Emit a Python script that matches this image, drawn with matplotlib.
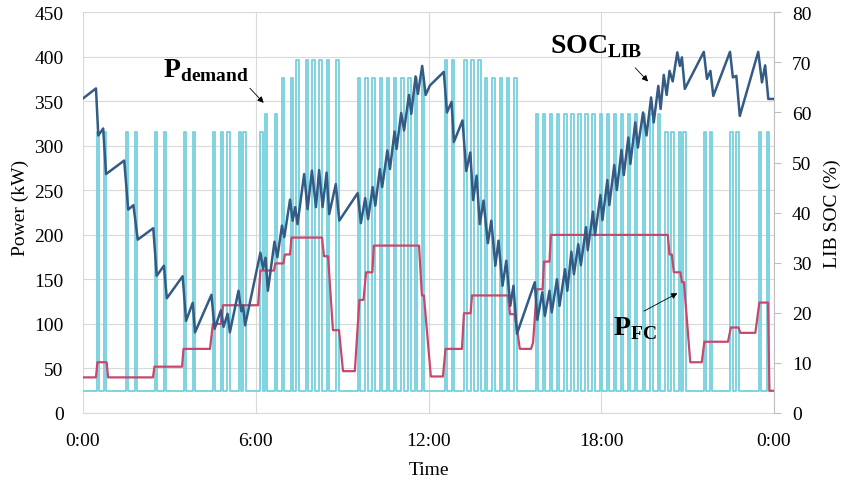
import matplotlib
matplotlib.use("Agg")
import matplotlib.pyplot as plt

plt.rcParams['font.family'] = ['Liberation Serif', 'DejaVu Serif']
plt.rcParams['mathtext.fontset'] = 'custom'
plt.rcParams['mathtext.rm'] = 'Liberation Serif'
plt.rcParams['mathtext.bf'] = 'Liberation Serif:bold'

# ---- data (hours, kW / %) ----
base_kw = 25
pulse_len = 0.09   # duration of one demand pulse (h)
pulse_mid = [0.52, 0.76, 1.53, 1.84, 2.54, 2.85, 3.54, 3.85, 4.55, 4.83, 5.05, 5.45, 5.61,
             6.20, 6.35, 6.70, 6.94, 7.26,
             7.45, 7.78, 8.00, 8.25, 8.51, 8.84,
             9.58, 9.84, 10.09, 10.35, 10.59, 10.84, 11.10, 11.34, 11.57, 11.81,
             12.60, 12.85, 13.28, 13.53, 13.76,
             14.00, 14.25, 14.52, 14.76, 15.02,
             15.76, 16.01, 16.26, 16.50, 16.75, 16.99, 17.24, 17.49, 17.73, 17.99,
             18.23, 18.48, 18.72, 18.96, 19.21, 19.48, 19.75, 20.01,
             20.27, 20.47, 20.73, 20.89, 21.60, 21.81, 22.52, 22.74, 23.51, 23.79]
pulse_kw = [316, 316, 316, 316, 316, 316, 316, 316, 316, 316, 316, 316, 316,
            316, 336, 336, 376, 376,
            396, 396, 396, 396, 396, 396,
            376, 376, 376, 376, 376, 376, 376, 376, 376, 376,
            396, 396, 396, 396, 396,
            376, 376, 376, 376, 376,
            336, 336, 336, 336, 336, 336, 336, 336, 336, 336,
            336, 336, 336, 336, 336, 336, 336, 336,
            316, 316, 316, 316, 316, 316, 316, 316, 316, 316]

fc_t = [0.00, 0.45, 0.50, 0.82, 0.87, 2.43, 2.48, 3.44, 3.49, 4.41, 4.51, 4.79, 4.86,
        6.08, 6.16, 6.63, 6.68, 6.96, 7.01, 7.19, 7.24, 8.30, 8.37, 8.51, 8.68, 8.89,
        9.03, 9.44, 9.60, 9.74, 9.83, 10.05, 10.10, 11.67, 11.77, 11.84, 12.08, 12.50,
        12.59, 13.16, 13.23, 13.46, 13.51, 14.76, 14.83, 15.00, 15.17, 15.56, 15.63,
        15.76, 15.96, 16.01, 16.20, 16.25, 20.31, 20.37, 20.45, 20.52, 20.75, 20.80,
        20.87, 21.09, 21.49, 21.58, 22.40, 22.50, 22.76, 22.83, 23.35, 23.49, 23.79,
        23.84, 24.00]
fc_kw = [40, 40, 57, 57, 40, 40, 52, 52, 72, 72, 100, 100, 121,
         121, 160, 160, 168, 168, 178, 178, 197, 197, 176, 176, 93, 93,
         47, 47, 127, 127, 158, 158, 188, 188, 132, 132, 41, 41,
         72, 72, 112, 112, 132, 132, 111, 111, 72, 72, 79,
         139, 139, 170, 170, 200, 200, 178, 178, 158, 158, 147,
         147, 57, 57, 80, 80, 96, 96, 90, 90, 124, 124,
         25, 25]

soc_t = [0.00, 0.45, 0.53, 0.70, 0.80, 1.43, 1.57, 1.75, 1.90, 2.44, 2.56, 2.81, 2.91,
         3.46, 3.58, 3.81, 3.89, 4.46, 4.57, 4.79, 4.88, 5.02, 5.10, 5.40, 5.50, 5.56,
         5.63, 6.16, 6.25, 6.34, 6.42, 6.65, 6.75, 6.91, 6.99, 7.19, 7.28, 7.37, 7.45,
         7.68, 7.80, 7.95, 8.09, 8.20, 8.32, 8.46, 8.55, 8.78, 8.90, 9.54, 9.65, 9.80,
         9.90, 10.06, 10.15, 10.31, 10.39, 10.57, 10.66, 10.82, 10.89, 11.05, 11.15,
         11.32, 11.40, 11.55, 11.63, 11.78, 11.90, 12.05, 12.53, 12.64, 12.80, 12.88,
         13.18, 13.31, 13.45, 13.55, 13.67, 13.78, 13.91, 14.06, 14.18, 14.32, 14.43,
         14.57, 14.70, 14.84, 14.95, 15.07, 15.69, 15.78, 15.95, 16.04, 16.20, 16.28,
         16.46, 16.55, 16.74, 16.82, 16.96, 17.05, 17.20, 17.29, 17.47, 17.53, 17.71,
         17.78, 17.97, 18.04, 18.21, 18.28, 18.45, 18.54, 18.70, 18.78, 18.94, 19.01,
         19.18, 19.27, 19.45, 19.57, 19.73, 19.82, 19.98, 20.06, 20.17, 20.27, 20.37,
         20.48, 20.64, 20.73, 20.80, 20.90, 21.56, 21.67, 21.79, 21.89, 22.47, 22.57,
         22.69, 22.81, 23.45, 23.58, 23.69, 23.80, 24.00]
soc_pct = [62.8, 64.8, 55.4, 56.8, 47.7, 50.4, 40.6, 41.5, 34.6, 36.9, 27.4, 29.4, 22.9,
           27.3, 18.4, 22.0, 16.1, 23.6, 16.8, 20.5, 17.2, 19.8, 16.1, 24.4, 20.3, 21.5,
           17.5, 32.0, 28.8, 31.0, 24.4, 34.2, 31.1, 37.4, 35.1, 42.6, 38.4, 41.1, 37.7,
           47.7, 40.7, 48.4, 41.1, 48.5, 41.1, 48.0, 39.7, 45.7, 38.4, 43.9, 37.9, 42.9,
           38.7, 45.1, 41.4, 48.7, 45.1, 52.4, 48.7, 56.2, 52.7, 59.9, 56.4,
           63.5, 59.7, 67.2, 63.7, 69.3, 63.5, 65.4, 68.1, 60.0, 62.1, 54.1,
           58.4, 48.3, 52.0, 42.5, 47.4, 37.7, 42.4, 33.9, 38.4, 29.4, 34.4,
           25.4, 30.4, 21.4, 25.4, 15.8, 26.1, 18.6, 24.1, 19.4, 24.4, 20.1,
           26.7, 21.4, 28.7, 24.4, 32.2, 27.7, 33.7, 29.5, 37.1, 32.5, 40.2,
           35.5, 43.5, 38.5, 46.5, 41.5, 49.5, 44.5, 52.5, 47.5, 55.0, 49.7,
           58.0, 53.0, 60.0, 55.4, 63.0, 58.0, 65.3, 60.7, 67.5, 63.5, 68.3,
           66.2, 72.0, 69.3, 71.0, 64.7, 72.1, 66.7, 68.3, 63.3, 72.1, 67.0,
           67.3, 59.3, 72.1, 66.0, 69.4, 62.7, 62.7]

x_ticks = [0, 6, 12, 18, 24]
x_labels = ['0:00', '6:00', '12:00', '18:00', '0:00']

# step trace of the demand pulses
dem_t = [0.0]
dem_kw = [base_kw]
for c, lvl in zip(pulse_mid, pulse_kw):
    t0, t1 = c - pulse_len / 2, c + pulse_len / 2
    dem_t += [t0, t0, t1, t1]
    dem_kw += [base_kw, lvl, lvl, base_kw]
dem_t.append(24.0)
dem_kw.append(base_kw)

c_dem = '#74d0dd'
c_fc = '#c9476c'
c_soc = '#345b85'
c_grid = '#d9d9d9'

fig = plt.figure(figsize=(8.42, 4.81), dpi=100)
ax = fig.add_axes([0.0986, 0.1393, 0.8207, 0.8331])
ax2 = ax.twinx()

ax.plot(dem_t, dem_kw, color=c_dem, lw=1.3, zorder=2)
ax.plot(fc_t, fc_kw, color=c_fc, lw=1.6, zorder=3)
ax2.plot(soc_t, soc_pct, color=c_soc, lw=1.8, zorder=4)

ax.set_xlim(0, 24)
ax.set_ylim(0, 450)
ax2.set_ylim(0, 80)
ax.set_yticks(range(0, 451, 50))
ax2.set_yticks(range(0, 81, 10))
ax.set_xticks(x_ticks)
ax.set_xticklabels(x_labels)
ax.grid(True, color=c_grid, lw=0.8, zorder=0)
ax.set_axisbelow(True)

for sp in ['top', 'left']:
    ax.spines[sp].set_visible(False)
    ax2.spines[sp].set_visible(False)
ax.spines['right'].set_visible(False)
ax2.spines['bottom'].set_visible(False)
ax.spines['bottom'].set_color(c_grid)
ax2.spines['right'].set_color('#bfbfbf')

ax.tick_params(axis='y', length=0, pad=14, labelsize=14)
ax.tick_params(axis='x', length=0, pad=14, labelsize=14)
ax2.tick_params(axis='y', length=5, width=0.8, color='#bfbfbf', pad=8, labelsize=14)

ax.set_xlabel('Time', fontsize=14)
ax.set_ylabel('Power (kW)', fontsize=14)
ax2.set_ylabel('LIB SOC (%)', fontsize=14)
ax.xaxis.set_label_coords(0.5, -0.14)
ax.xaxis.label.set_va('center')
ax.yaxis.set_label_coords(-0.091, 0.514)
ax.yaxis.label.set_va('center')
ax2.yaxis.set_label_coords(1.084, 0.50)
ax2.yaxis.label.set_va('center')

# annotations
ax.text(2.78, 378, r'$\mathbf{P}_{\mathbf{demand}}$', fontsize=20, ha='left', va='baseline', zorder=6)
ax.annotate('', xy=(6.34, 346), xytext=(5.73, 367),
            arrowprops=dict(arrowstyle='-|>', color='black', lw=0.6, mutation_scale=9))
ax.text(16.22, 405, r'$\mathbf{SOC}_{\mathbf{LIB}}$', fontsize=20, ha='left', va='baseline', zorder=6)
ax.annotate('', xy=(19.69, 370), xytext=(19.11, 390),
            arrowprops=dict(arrowstyle='-|>', color='black', lw=0.6, mutation_scale=9))
ax.text(18.40, 89, r'$\mathbf{P}_{\mathbf{FC}}$', fontsize=20, ha='left', va='baseline', zorder=6)
ax.annotate('', xy=(20.73, 136), xytext=(19.40, 113),
            arrowprops=dict(arrowstyle='-|>', color='black', lw=0.6, mutation_scale=9))

fig.savefig('out.png', dpi=100)
